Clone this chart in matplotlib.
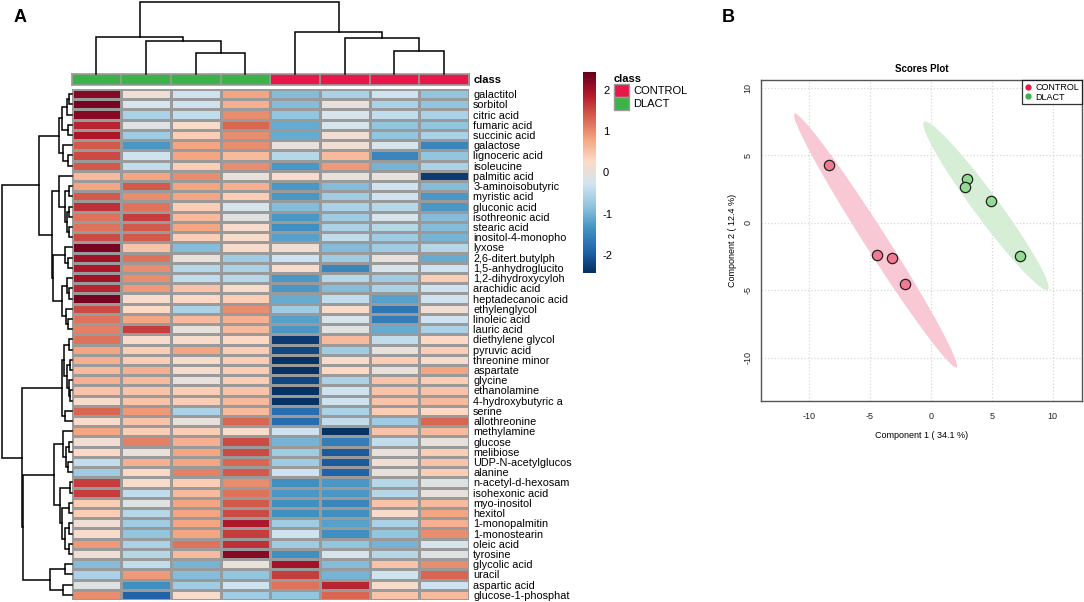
import numpy as np
import matplotlib
matplotlib.use("Agg")
import matplotlib.pyplot as plt
from matplotlib.colors import LinearSegmentedColormap
from matplotlib.patches import Patch, Ellipse
from matplotlib.lines import Line2D

plt.rcParams['font.family'] = ['Liberation Sans', 'DejaVu Sans']
plt.rcParams['axes.unicode_minus'] = False

# =============================================================================
# DATA
# =============================================================================

metabolites = [
    "galactitol", "sorbitol", "citric acid", "fumaric acid", "succinic acid",
    "galactose", "lignoceric acid", "isoleucine", "palmitic acid", "3-aminoisobutyric",
    "myristic acid", "gluconic acid", "isothreonic acid", "stearic acid", "inositol-4-monopho",
    "lyxose", "2,6-ditert.butylph", "1,5-anhydroglucito", "1,2-dihydroxycyloh", "arachidic acid",
    "heptadecanoic acid", "ethylenglycol", "linoleic acid", "lauric acid", "diethylene glycol",
    "pyruvic acid", "threonine minor", "aspartate", "glycine", "ethanolamine",
    "4-hydroxybutyric a", "serine", "allothreonine", "methylamine", "glucose",
    "melibiose", "UDP-N-acetylglucos", "alanine", "n-acetyl-d-hexosam", "isohexonic acid",
    "myo-inositol", "hexitol", "1-monopalmitin", "1-monostearin", "oleic acid",
    "tyrosine", "glycolic acid", "uracil", "aspartic acid", "glucose-1-phosphat",
]

sample_class = ["DLACT", "DLACT", "DLACT", "DLACT",
                "CONTROL", "CONTROL", "CONTROL", "CONTROL"]

# standardised concentrations (rows = metabolites, columns = samples)
values = [
    [2.2, 0.1, -0.3, 0.8, -0.9, -0.6, -0.3, -0.8],
    [2.3, -0.2, -0.3, 0.7, -0.9, 0.0, -0.6, -0.8],
    [2.2, -0.6, -0.4, 1.0, -0.8, -0.2, -0.4, -0.6],
    [1.8, -0.1, 0.2, 1.3, -1.1, -0.2, -0.8, -0.8],
    [1.9, -0.7, 0.4, 1.0, -1.1, 0.1, -0.8, -0.6],
    [1.4, -1.3, 0.8, 1.0, 0.0, 0.1, -0.2, -1.5],
    [1.5, -0.3, 0.8, 0.6, -0.5, 0.6, -1.5, -0.8],
    [1.4, -0.4, 0.4, 1.0, -1.3, 0.9, -1.0, -0.6],
    [0.6, 0.8, 1.0, 0.0, 0.2, 0.0, 0.0, -2.3],
    [0.8, 1.4, 0.8, 0.7, -1.3, -0.9, -0.3, -0.9],
    [1.4, 1.0, 0.8, 0.4, -1.3, -0.7, -0.3, -1.3],
    [1.7, 1.2, 0.4, -0.2, -0.9, -0.6, -0.5, -1.3],
    [1.2, 1.6, 0.6, -0.1, -1.3, -0.7, -0.2, -0.9],
    [1.2, 1.4, 0.8, 0.2, -1.4, -0.6, -0.5, -0.9],
    [1.5, 1.4, 0.4, 0.2, -1.2, -0.4, -0.7, -1.0],
    [2.3, 0.5, -0.9, 0.2, 0.1, -0.9, -0.7, -0.5],
    [2.0, 1.2, 0.0, -0.7, -0.3, -0.7, 0.0, -1.1],
    [1.9, 1.0, -0.5, -0.6, 0.2, -1.5, -0.2, -0.3],
    [2.0, 1.0, -0.4, -0.5, -1.3, -0.5, -0.7, 0.4],
    [1.8, 0.9, 0.5, 0.2, -1.3, -0.9, -0.6, -0.3],
    [2.3, 0.2, 0.3, 0.4, -1.1, -0.4, -1.2, -0.3],
    [1.5, 0.3, -0.6, 1.0, -0.7, 0.2, -1.7, 0.1],
    [1.2, 0.8, 0.6, 0.7, -1.2, -0.2, -1.6, -0.3],
    [1.1, 1.6, 0.0, 0.6, -1.3, -0.1, -1.1, -0.6],
    [1.2, 0.2, 0.2, 0.3, -2.3, 0.6, -0.4, 0.3],
    [0.8, 0.4, 0.8, 0.4, -2.2, -0.7, 0.0, 0.4],
    [0.7, 0.4, 0.2, 0.4, -2.4, 0.2, 0.4, 0.2],
    [0.6, 0.7, 0.2, 0.4, -2.4, 0.3, 0.0, 0.8],
    [0.7, 0.6, 0.0, 0.4, -2.2, -0.6, 0.5, 0.4],
    [0.5, 0.5, 0.4, 0.5, -2.4, -0.3, 0.5, 0.5],
    [0.2, 0.5, 0.4, 0.6, -2.4, -0.3, 0.5, 0.6],
    [1.3, 0.9, -0.6, 0.6, -1.8, -0.6, 0.4, 0.3],
    [0.2, 0.5, 0.0, 1.3, -1.8, -0.4, -0.7, 1.3],
    [0.8, 0.4, 0.4, 0.2, -0.3, -2.4, 0.5, 0.6],
    [0.1, 1.1, 0.7, 1.5, -1.0, -1.6, -0.4, 0.0],
    [0.3, 0.0, 0.8, 1.5, -0.7, -2.0, 0.0, 0.4],
    [-0.4, 0.7, 0.8, 1.3, -0.7, -2.0, 0.1, 0.5],
    [-0.7, 0.3, 1.1, 1.4, -0.3, -1.9, 0.0, 0.4],
    [1.6, 0.2, 0.4, 1.0, -1.4, -1.3, -0.5, -0.1],
    [1.6, -0.4, 0.6, 1.2, -1.3, -1.3, -0.5, 0.0],
    [0.4, -0.1, 0.8, 1.4, -1.4, -1.5, 0.5, 0.6],
    [0.4, -0.5, 0.8, 1.5, -1.4, -1.4, 0.2, 0.8],
    [0.1, -0.7, 0.8, 1.9, -0.7, -1.2, -0.6, 0.7],
    [0.2, -0.8, 0.8, 1.6, -0.3, -1.4, -0.8, 1.0],
    [0.9, -0.6, 1.2, 1.7, -0.7, -0.8, -1.0, -0.2],
    [0.1, -0.5, 0.6, 2.2, -1.4, -0.2, -0.5, -0.1],
    [-0.9, -0.4, -1.0, 0.0, 2.0, -0.9, 0.5, 1.0],
    [-0.6, 0.9, -0.9, -0.8, 1.6, -1.0, -0.3, 1.3],
    [-0.1, -1.4, -0.7, -0.3, 1.2, 1.8, 0.2, -0.3],
    [1.0, -1.9, 0.2, -0.7, -0.8, 1.3, 0.5, 0.6],
]

# dendrograms: [height, left, right], leaves = position index
col_tree = [1.0,
            [0.51, 0, [0.45, 1, [0.28, 2, 3]]],
            [0.58, 4, [0.49, 5, [0.31, 6, 7]]]]

row_tree = [1.0,
            [0.466,
             [0.175,
              [0.14, [0.07, [0.036, 0, 1], 2], [0.05, 3, 4]],
              [0.117, 5, [0.05, 6, 7]]],
             [0.284,
              [0.175, 8, [0.1, [0.04, 9, 10], [0.07, [0.03, 11, 12], [0.04, 13, 14]]]],
              [0.26,
               [0.093, 15, [0.05, 16, 17]],
               [0.136, [0.07, 18, [0.036, 19, 20]], [0.08, 21, [0.043, 22, 23]]]]]],
            [0.716,
             [0.136,
              [0.11, [0.04, 24, 25], [0.06, [0.02, 26, 27], [0.035, 28, [0.015, 29, 30]]]],
              [0.093, 31, 32]],
             [0.695,
              [0.25,
               [0.12, 33, [0.08, [0.04, 34, 35], [0.05, 36, 37]]],
               [0.165, [0.02, 38, 39],
                [0.13, [0.03, 40, 41], [0.09, [0.03, 42, 43], [0.04, 44, 45]]]]],
              [0.31, [0.093, 46, 47], [0.12, 48, 49]]]]]

# PLS-DA scores
control_c1 = [-8.39, -4.40, -3.22, -2.13]
control_c2 = [4.25, -2.37, -2.57, -4.56]
dlact_c1 = [2.97, 2.84, 4.94, 7.32]
dlact_c2 = [3.21, 2.67, 1.61, -2.42]

# =============================================================================
# STYLE
# =============================================================================

class_colors = {"CONTROL": "#E8174A", "DLACT": "#3CB34A"}
rdbu = ["#67001F", "#B2182B", "#D6604D", "#F4A582", "#FDDBC7",
        "#D1E5F0", "#92C5DE", "#4393C3", "#2166AC", "#053061"][::-1]
cmap = LinearSegmentedColormap.from_list("rdbu_r", rdbu, N=256)
vlim = 2.43
W, H = 1084, 602


def px(x0, y0, x1, y1):
    # pixel box -> figure fraction [left, bottom, width, height]
    return [x0 / W, 1 - y1 / H, (x1 - x0) / W, (y1 - y0) / H]


def dendro_segments(node):
    if isinstance(node, int):
        return node + 0.5, 0.0, []
    h, left, right = node
    pl, hl, sl = dendro_segments(left)
    pr, hr, sr = dendro_segments(right)
    seg = [[(pl, hl), (pl, h), (pr, h), (pr, hr)]]
    return (pl + pr) / 2, h, sl + sr + seg


fig = plt.figure(figsize=(W / 100, H / 100), dpi=100)

# =============================================================================
# A. HEATMAP
# =============================================================================

data = np.array(values)
n_rows, n_cols = data.shape

ax_hm = fig.add_axes(px(71.5, 89, 469, 600))
ax_hm.pcolormesh(data, cmap=cmap, vmin=-vlim, vmax=vlim,
                 edgecolors="#9a9a9a", linewidth=1.0)
ax_hm.set_xlim(0, n_cols)
ax_hm.set_ylim(n_rows, 0)
ax_hm.set_xticks([])
ax_hm.yaxis.tick_right()
ax_hm.set_yticks(np.arange(n_rows) + 0.5)
ax_hm.set_yticklabels(metabolites, fontsize=7.8)
ax_hm.tick_params(axis="y", length=0, pad=3)
for s in ax_hm.spines.values():
    s.set_visible(False)

# class bar
ax_cls = fig.add_axes(px(71.5, 73.5, 469, 85))
cls_rgb = np.array([[matplotlib.colors.to_rgb(class_colors[c]) for c in sample_class]])
ax_cls.imshow(cls_rgb, aspect="auto", extent=(0, n_cols, 1, 0))
for i in range(n_cols + 1):
    ax_cls.axvline(i, color="#9a9a9a", lw=1.2)
ax_cls.set_xlim(0, n_cols)
ax_cls.set_xticks([])
ax_cls.set_yticks([0.5])
ax_cls.yaxis.tick_right()
ax_cls.set_yticklabels(["class"], fontsize=8, fontweight="bold")
ax_cls.tick_params(axis="y", length=0, pad=3)
for s in ax_cls.spines.values():
    s.set_color("#9a9a9a")
    s.set_linewidth(1.2)

# column dendrogram
ax_cd = fig.add_axes(px(71.5, 2, 469, 73.5))
for seg in dendro_segments(col_tree)[2]:
    xs, ys = zip(*seg)
    ax_cd.plot(xs, ys, color="black", lw=1.1, solid_joinstyle="miter", clip_on=False)
ax_cd.set_xlim(0, n_cols)
ax_cd.set_ylim(0, 1)
ax_cd.axis("off")

# row dendrogram
ax_rd = fig.add_axes(px(1.7, 89, 71.5, 600))
for seg in dendro_segments(row_tree)[2]:
    ys, xs = zip(*seg)
    ax_rd.plot(xs, ys, color="black", lw=1.1, solid_joinstyle="miter", clip_on=False)
ax_rd.set_xlim(1, 0)
ax_rd.set_ylim(n_rows, 0)
ax_rd.axis("off")

# colour key
ax_cb = fig.add_axes(px(583, 72, 596, 273))
grad = np.linspace(-vlim, vlim, 256).reshape(-1, 1)
ax_cb.imshow(grad, cmap=cmap, aspect="auto", origin="lower",
             extent=(0, 1, -vlim, vlim))
ax_cb.set_xticks([])
ax_cb.yaxis.tick_right()
ax_cb.set_yticks([-2, -1, 0, 1, 2])
ax_cb.tick_params(axis="y", length=0, pad=5, labelsize=8)
for s in ax_cb.spines.values():
    s.set_visible(False)

# class legend
handles = [Patch(facecolor=class_colors[c], edgecolor="#9a9a9a", lw=1)
           for c in ["CONTROL", "DLACT"]]
leg = fig.legend(handles, ["CONTROL", "DLACT"], title="class",
                 loc="upper left", bbox_to_anchor=(606 / W, 1 - 66 / H),
                 frameon=False, fontsize=8, handlelength=1.35, handleheight=1.35,
                 handletextpad=0.4, labelspacing=0.05, borderpad=0.2,
                 alignment="left", title_fontproperties={"weight": "bold", "size": 8})

fig.text(14 / W, 1 - 18 / H, "A", fontsize=13, fontweight="bold", va="center", ha="left")

# =============================================================================
# B. SCORES PLOT
# =============================================================================

ax_sp = fig.add_axes(px(761, 80, 1082, 400.7))
chi_scale = np.sqrt(-2 * np.log(0.05))   # 95 % ellipse


def conf_ellipse(x, y, color):
    x = np.asarray(x)
    y = np.asarray(y)
    cov = np.cov(x, y)
    vals, vecs = np.linalg.eigh(cov)
    order = vals.argsort()[::-1]
    vals, vecs = vals[order], vecs[:, order]
    angle = np.degrees(np.arctan2(vecs[1, 0], vecs[0, 0]))
    w, h = 2 * chi_scale * np.sqrt(vals)
    ax_sp.add_patch(Ellipse((x.mean(), y.mean()), w, h, angle=angle,
                            facecolor=color, edgecolor="none", zorder=1))


conf_ellipse(control_c1, control_c2, "#F8C9D4")
conf_ellipse(dlact_c1, dlact_c2, "#D5EED5")

ax_sp.scatter(control_c1, control_c2, s=55, facecolor="#F27A93",
              edgecolor="#222222", lw=0.9, zorder=3)
ax_sp.scatter(dlact_c1, dlact_c2, s=55, facecolor="#93DA93",
              edgecolor="#222222", lw=0.9, zorder=3)

ax_sp.set_xlim(-13.93, 12.4)
ax_sp.set_ylim(-13.16, 10.57)
ax_sp.set_xticks([-10, -5, 0, 5, 10])
ax_sp.set_yticks([-10, -5, 0, 5, 10])
ax_sp.grid(True, color="#d8d8d8", linestyle=":", lw=0.9, zorder=0)
ax_sp.set_axisbelow(True)
ax_sp.tick_params(labelsize=6.5, length=0, pad=8, colors="#222222")
ax_sp.tick_params(axis="y", pad=6)
for lab in ax_sp.get_yticklabels():
    lab.set_rotation(90)
    lab.set_va("center")
for s in ax_sp.spines.values():
    s.set_color("#555555")
    s.set_linewidth(1.0)
ax_sp.set_xlabel("Component 1 ( 34.1 %)", fontsize=6.5, labelpad=7)
ax_sp.set_ylabel("Component 2 ( 12.4 %)", fontsize=6.5, labelpad=5)
ax_sp.set_title("Scores Plot", fontsize=7, fontweight="bold", pad=6)

sp_handles = [Line2D([], [], marker="o", ls="", color=class_colors[c], markersize=3.5)
              for c in ["CONTROL", "DLACT"]]
leg2 = ax_sp.legend(sp_handles, ["CONTROL", "DLACT"], loc="upper right",
                    fontsize=6.5, frameon=True, fancybox=False, borderaxespad=0,
                    handlelength=0.8, handletextpad=0.4, labelspacing=0.1,
                    borderpad=0.3)
leg2.get_frame().set_edgecolor("black")
leg2.get_frame().set_linewidth(0.9)

fig.text(722 / W, 1 - 18 / H, "B", fontsize=13, fontweight="bold", va="center", ha="left")

fig.savefig("out.png", dpi=100)
